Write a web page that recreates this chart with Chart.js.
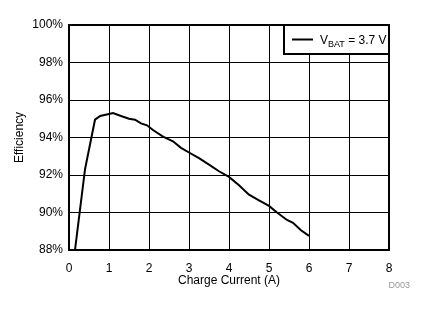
<!DOCTYPE html>
<html>
<head>
<meta charset="utf-8">
<script src="https://cdn.jsdelivr.net/npm/chart.js@4/dist/chart.umd.min.js"></script>
<style>
  html, body { margin: 0; padding: 0; background: #fff; }
  #chartcanvas { display: block; }
</style>
</head>
<body>
<canvas id="chartcanvas" width="426" height="312"></canvas>
<script>
// charge current (A) and efficiency (%)
var chargeCurrent = [0.15, 0.4, 0.65, 0.78, 1.0, 1.1, 1.3, 1.5, 1.65, 1.8, 1.95, 2.1, 2.35, 2.6, 2.8, 3.0,
    3.25, 3.5, 3.75, 4.0, 4.25, 4.5, 4.75, 5.0, 5.2, 5.45, 5.6, 5.8, 6.0];
var efficiency = [88.0, 92.3, 94.95, 95.15, 95.25, 95.3, 95.15, 95.0, 94.95, 94.75, 94.65, 94.4, 94.05, 93.8, 93.45, 93.2,
    92.9, 92.55, 92.2, 91.9, 91.45, 90.95, 90.65, 90.35, 90.0, 89.6, 89.45, 89.05, 88.75];
var xTicks = [0, 1, 2, 3, 4, 5, 6, 7, 8];
var yTicks = [88, 90, 92, 94, 96, 98, 100];

var FONT = "'Liberation Sans', Arial, sans-serif";

var points = chargeCurrent.map(function (x, i) {
    return { x: x, y: efficiency[i] };
});

// frame around the plot, legend box and the footnote
var framePlugin = {
    id: 'frame',
    afterDraw: function (chart) {
        var ctx = chart.ctx;
        var a = chart.chartArea;
        ctx.save();
        ctx.strokeStyle = '#000';
        ctx.lineWidth = 2;
        ctx.strokeRect(a.left, a.top, a.right - a.left, a.bottom - a.top);

        // legend box
        var bx = 284, by = a.top, bw = a.right - 284, bh = 29;
        ctx.fillStyle = '#fff';
        ctx.fillRect(bx, by, bw, bh);
        ctx.strokeRect(bx, by, bw, bh);
        ctx.beginPath();
        ctx.moveTo(292, 39.5);
        ctx.lineTo(313, 39.5);
        ctx.stroke();

        ctx.fillStyle = '#000';
        ctx.textBaseline = 'alphabetic';
        ctx.textAlign = 'left';
        ctx.font = '12px ' + FONT;
        var tx = 320;
        ctx.fillText('V', tx, 44);
        tx += ctx.measureText('V').width;
        ctx.font = '9px ' + FONT;
        ctx.fillText('BAT', tx, 47);
        tx += ctx.measureText('BAT').width;
        ctx.font = '12px ' + FONT;
        ctx.fillText(' = 3.7 V', tx, 44);

        ctx.fillStyle = '#999';
        ctx.font = '9px ' + FONT;
        ctx.textAlign = 'right';
        ctx.fillText('D003', 410, 288);
        ctx.restore();
    }
};

var ctx = document.getElementById('chartcanvas');

var chart = new Chart(ctx, {
    type: 'line',
    data: {
        datasets: [{
            label: 'VBAT = 3.7 V',
            data: points,
            borderColor: '#000',
            borderWidth: 2,
            pointRadius: 0,
            tension: 0,
            fill: false
        }]
    },
    options: {
        responsive: false,
        animation: false,
        layout: {
            padding: { top: 25, right: 37, left: 0, bottom: 0 }
        },
        plugins: {
            legend: { display: false },
            tooltip: { enabled: false }
        },
        scales: {
            x: {
                type: 'linear',
                min: 0,
                max: 8,
                afterBuildTicks: function (scale) {
                    scale.ticks = xTicks.map(function (v) { return { value: v }; });
                },
                afterFit: function (scale) { scale.height = 62; },
                grid: { color: '#000', lineWidth: 1, drawTicks: false },
                border: { display: false },
                ticks: {
                    padding: 11,
                    color: '#000',
                    font: { family: FONT, size: 12 }
                },
                title: {
                    display: true,
                    text: 'Charge Current (A)',
                    color: '#000',
                    font: { family: FONT, size: 12 },
                    padding: { top: 0, bottom: 24 }
                }
            },
            y: {
                min: 88,
                max: 100,
                afterBuildTicks: function (scale) {
                    scale.ticks = yTicks.map(function (v) { return { value: v }; });
                },
                afterFit: function (scale) { scale.width = 69; },
                grid: { color: '#000', lineWidth: 1, drawTicks: false },
                border: { display: false },
                ticks: {
                    padding: 6,
                    color: '#000',
                    font: { family: FONT, size: 12 },
                    callback: function (v) { return v + '%'; }
                },
                title: {
                    display: true,
                    text: 'Efficiency',
                    color: '#000',
                    font: { family: FONT, size: 12 },
                    padding: { top: 12, bottom: 0 }
                }
            }
        }
    },
    plugins: [framePlugin]
});
</script>
</body>
</html>
